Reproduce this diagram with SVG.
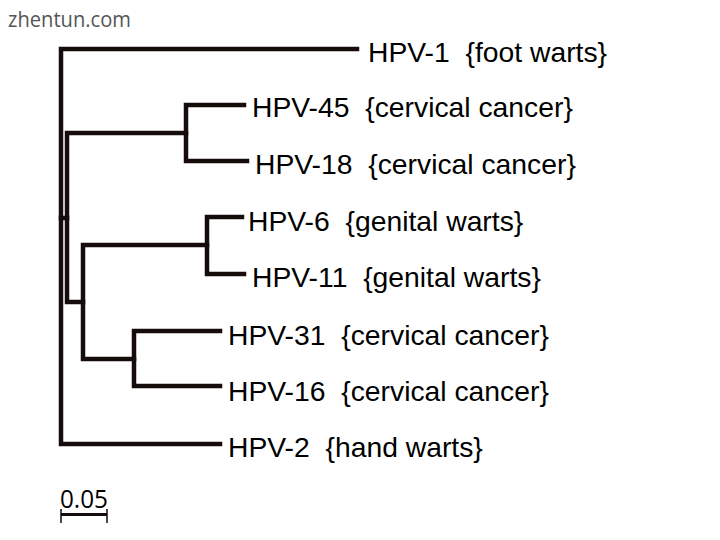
<svg xmlns="http://www.w3.org/2000/svg" width="720" height="540" viewBox="0 0 720 540">
<style>
.br{fill:none;stroke:#160c0c;stroke-width:4.5;stroke-linecap:square;stroke-linejoin:miter}
.lb{font-family:"Liberation Sans",Arial,sans-serif;font-size:28.3px;fill:#000;white-space:pre}
.wm{font-family:"Open Sans","Liberation Sans",sans-serif;font-size:22px;fill:#555}
.sc{font-family:"Open Sans","Liberation Sans",sans-serif;font-size:25px;fill:#000}
</style>
<rect width="720" height="540" fill="#fff"/>
<text class="wm" x="8" y="27" textLength="123" lengthAdjust="spacingAndGlyphs">zhentun.com</text>
<g id="connectors">
<path class="br" d="M357 49H61V444H220"/>
<path class="br" d="M61 218H67"/>
<path class="br" d="M186 133H67V302H83"/>
<path class="br" d="M244 105H186V161H247"/>
<path class="br" d="M207 245H83V359H134"/>
<path class="br" d="M242 217H207V274H244"/>
<path class="br" d="M220 331H134V386H220"/>
</g>
<g id="hpv1"><text class="lb" x="368" y="62" xml:space="preserve">HPV-1  {foot warts}</text></g>
<g id="hpv45"><text class="lb" x="252" y="117" xml:space="preserve">HPV-45  {cervical cancer}</text></g>
<g id="hpv18"><text class="lb" x="255" y="174" xml:space="preserve">HPV-18  {cervical cancer}</text></g>
<g id="hpv6"><text class="lb" x="248" y="231" xml:space="preserve">HPV-6  {genital warts}</text></g>
<g id="hpv11"><text class="lb" x="252" y="287" xml:space="preserve">HPV-11  {genital warts}</text></g>
<g id="hpv31"><text class="lb" x="228" y="345" xml:space="preserve">HPV-31  {cervical cancer}</text></g>
<g id="hpv16"><text class="lb" x="228" y="401" xml:space="preserve">HPV-16  {cervical cancer}</text></g>
<g id="hpv2"><text class="lb" x="228" y="457" xml:space="preserve">HPV-2  {hand warts}</text></g>
<g id="scale">
<text class="sc" x="60" y="508" textLength="48" lengthAdjust="spacingAndGlyphs">0.05</text>
<path d="M61 514.5H107" fill="none" stroke="#160c0c" stroke-width="3"/>
<path d="M61 509V523M107 509V523" fill="none" stroke="#160c0c" stroke-width="1.5"/>
</g>
</svg>
